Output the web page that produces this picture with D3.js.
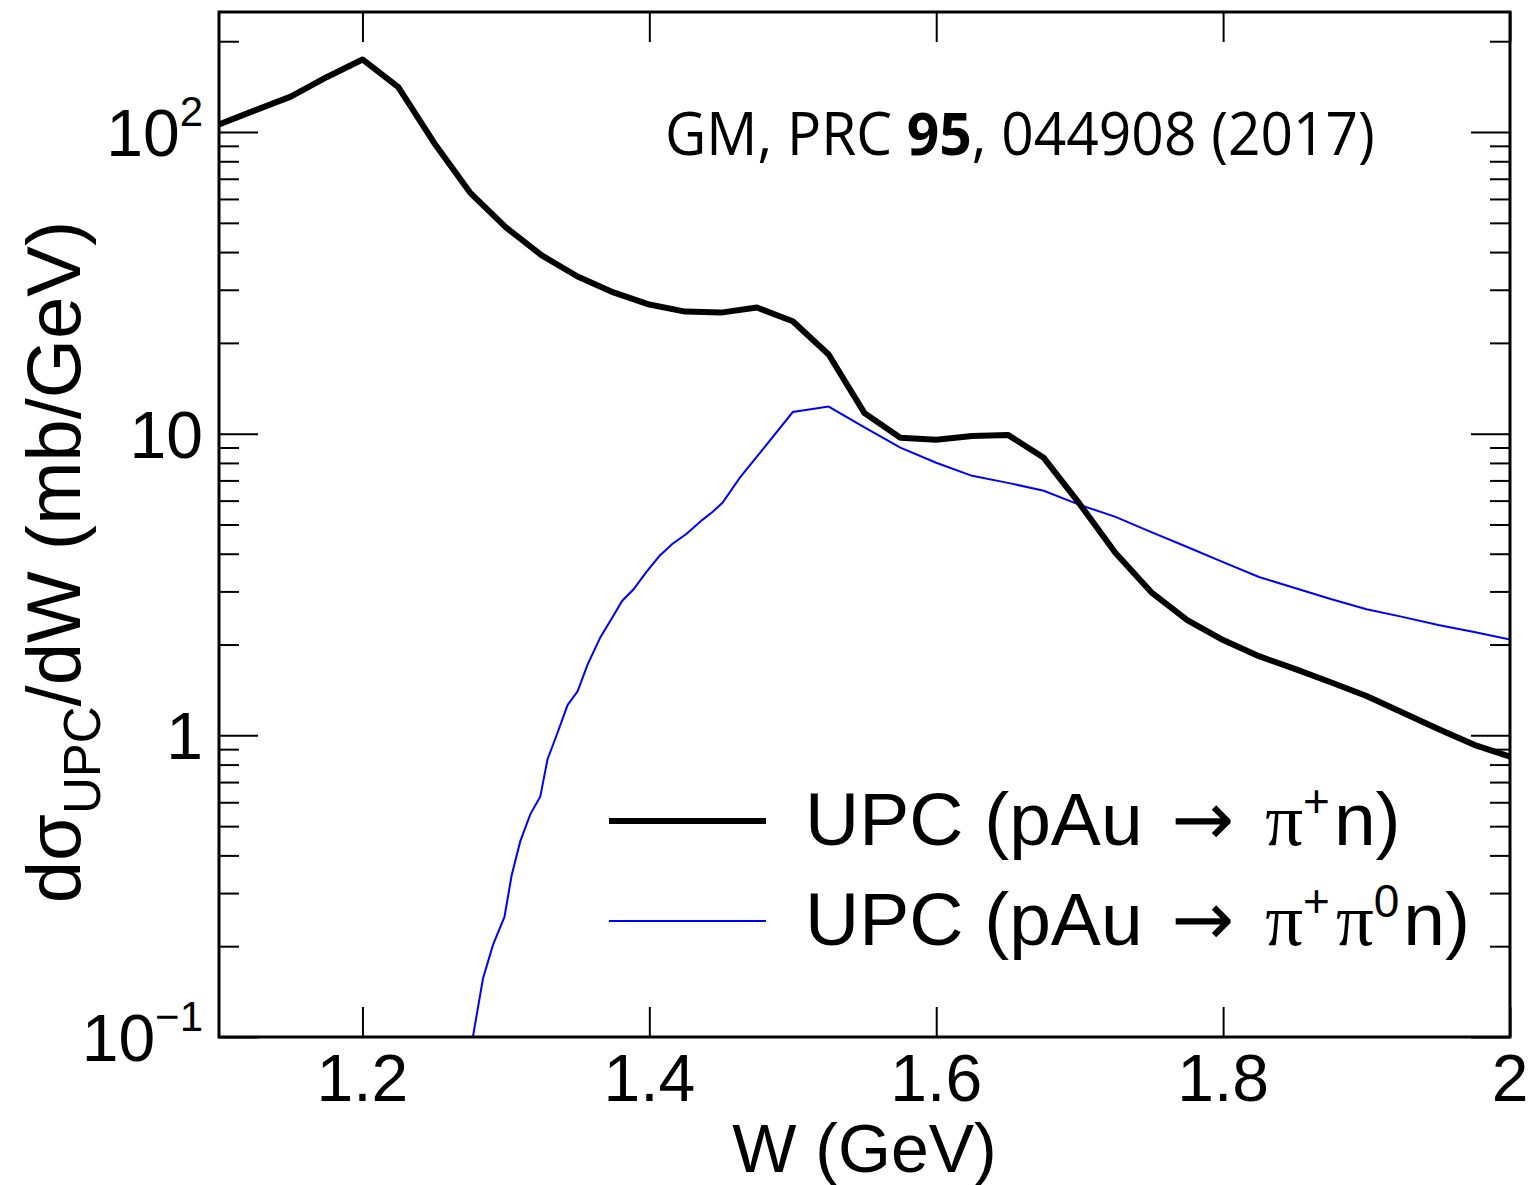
<!DOCTYPE html>
<html>
<head>
<meta charset="utf-8">
<script src="https://cdn.jsdelivr.net/npm/d3@7"></script>
<style>
  body { margin: 0; background: #fff; }
  svg text { font-family: 'Liberation Sans', Arial, Helvetica, sans-serif; fill: #000; }
</style>
</head>
<body>
<div id="chart"></div>
<script>
// pAu -> pi+ n  (black, thick)
const wPiN = [1.1, 1.125, 1.15, 1.175, 1.2, 1.225, 1.25, 1.275, 1.3, 1.325, 1.35, 1.375,
  1.4, 1.425, 1.45, 1.475, 1.5, 1.525, 1.55, 1.575, 1.6, 1.625, 1.65, 1.675, 1.7, 1.725,
  1.75, 1.775, 1.8, 1.825, 1.85, 1.875, 1.9, 1.925, 1.95, 1.975, 2.0]
const sigmaPiN = [106, 118, 131, 152, 174, 141, 92, 63, 48.3, 39.0, 33.2, 29.4,
  26.8, 25.4, 25.2, 26.2, 23.6, 18.3, 11.7, 9.70, 9.55, 9.83, 9.91, 8.32, 5.85, 4.02,
  2.98, 2.41, 2.07, 1.83, 1.66, 1.50, 1.35, 1.19, 1.05, 0.93, 0.85]

// pAu -> pi+ pi0 n  (blue, thin)
const wPiPiN = [1.274, 1.277, 1.284, 1.291, 1.299, 1.304, 1.310, 1.317, 1.324, 1.329, 1.336,
  1.343, 1.350, 1.357, 1.366, 1.374, 1.381, 1.389, 1.398, 1.407, 1.416, 1.426, 1.437,
  1.444, 1.451, 1.463, 1.475, 1.5, 1.525, 1.55, 1.575, 1.6, 1.625, 1.65, 1.675, 1.7,
  1.725, 1.75, 1.775, 1.8, 1.825, 1.85, 1.875, 1.9, 1.925, 1.95, 1.975, 2.0]
const sigmaPiPiN = [0.085, 0.1, 0.156, 0.202, 0.250, 0.343, 0.445, 0.547, 0.627, 0.832, 1.02,
  1.26, 1.40, 1.72, 2.12, 2.45, 2.79, 3.05, 3.48, 3.93, 4.31, 4.66, 5.18,
  5.50, 5.90, 7.14, 8.39, 11.8, 12.3, 10.5, 8.99, 8.01, 7.25, 6.87, 6.47, 5.81,
  5.30, 4.72, 4.21, 3.75, 3.35, 3.08, 2.83, 2.62, 2.47, 2.32, 2.20, 2.08]

const xTicks = [1.2, 1.4, 1.6, 1.8, 2.0]
const xTickLabels = ['1.2', '1.4', '1.6', '1.8', '2']
const yMajor = [0.1, 1, 10, 100]
const yMajorLabels = [['10', '\u22121'], ['1', ''], ['10', ''], ['10', '2']]

const width = 1531
const height = 1185
const margin = {top: 12, right: 21, bottom: 148, left: 219}
const plotW = width - margin.left - margin.right
const plotH = height - margin.top - margin.bottom

// minor ticks 2..9 in every decade
const yMinor = []
for (const d of [0.1, 1, 10, 100]) {
  for (let k = 2; k <= 9; k++) {
    if (k * d <= 250) yMinor.push(k * d)
  }
}

const x = d3.scaleLinear().domain([1.1, 2.0]).range([0, plotW])
const y = d3.scaleLog().domain([0.1, 250]).range([plotH, 0])

const svg = d3.select('#chart').append('svg')
  .attr('width', width)
  .attr('height', height)

const g = svg.append('g')
  .attr('transform', `translate(${margin.left},${margin.top})`)

svg.append('defs').append('clipPath')
  .attr('id', 'clip')
  .append('rect')
  .attr('width', plotW)
  .attr('height', plotH)

// ticks (all inward, mirrored on the opposite sides)
function styleAxis(sel) {
  sel.select('.domain').remove()
  sel.selectAll('.tick line').attr('stroke', '#000').attr('stroke-width', 2)
  sel.selectAll('.tick text').remove()
}

g.append('g')
  .attr('transform', `translate(0,${plotH})`)
  .call(d3.axisBottom(x).tickValues(xTicks).tickSize(-30))
  .call(styleAxis)
g.append('g')
  .call(d3.axisTop(x).tickValues(xTicks).tickSize(-30))
  .call(styleAxis)
g.append('g')
  .call(d3.axisLeft(y).tickValues(yMajor).tickSize(-39))
  .call(styleAxis)
g.append('g')
  .call(d3.axisLeft(y).tickValues(yMinor).tickSize(-20))
  .call(styleAxis)
g.append('g')
  .attr('transform', `translate(${plotW},0)`)
  .call(d3.axisRight(y).tickValues(yMajor).tickSize(-39))
  .call(styleAxis)
g.append('g')
  .attr('transform', `translate(${plotW},0)`)
  .call(d3.axisRight(y).tickValues(yMinor).tickSize(-20))
  .call(styleAxis)

// x tick labels
g.append('g').selectAll('text')
  .data(xTicks)
  .enter().append('text')
  .attr('x', d => x(d))
  .attr('y', plotH + 64)
  .attr('text-anchor', 'middle')
  .attr('font-size', 66)
  .text((d, i) => xTickLabels[i])

// y tick labels with superscripts
const yLab = g.append('g').selectAll('text')
  .data(yMajor)
  .enter().append('text')
  .attr('x', -16)
  .attr('y', d => y(d) + 24)
  .attr('text-anchor', 'end')
  .attr('font-size', 66)
yLab.append('tspan').text((d, i) => yMajorLabels[i][0])
yLab.append('tspan')
  .attr('font-size', 42)
  .attr('dy', -30)
  .text((d, i) => yMajorLabels[i][1])

// curves
const line = d3.line()
  .x(d => x(d[0]))
  .y(d => y(d[1]))

const curves = g.append('g').attr('clip-path', 'url(#clip)')
curves.append('path')
  .datum(wPiPiN.map((w, i) => [w, sigmaPiPiN[i]]))
  .attr('fill', 'none')
  .attr('stroke', '#0000ff')
  .attr('stroke-width', 2)
  .attr('d', line)
curves.append('path')
  .datum(wPiN.map((w, i) => [w, sigmaPiN[i]]))
  .attr('fill', 'none')
  .attr('stroke', '#000')
  .attr('stroke-width', 6)
  .attr('stroke-linejoin', 'round')
  .attr('d', line)

// frame
g.append('rect')
  .attr('width', plotW)
  .attr('height', plotH)
  .attr('fill', 'none')
  .attr('stroke', '#000')
  .attr('stroke-width', 3)

// axis titles
svg.append('text')
  .attr('x', margin.left + plotW / 2)
  .attr('y', 1172)
  .attr('text-anchor', 'middle')
  .attr('font-size', 68)
  .text('W (GeV)')

const yTitle = svg.append('text')
  .attr('transform', 'translate(80,562) rotate(-90)')
  .attr('text-anchor', 'middle')
  .attr('font-size', 76)
yTitle.append('tspan').text('d\u03c3')
yTitle.append('tspan').attr('font-size', 51).attr('dy', 20).text('UPC')
yTitle.append('tspan').attr('dy', -20).text('/dW (mb/GeV)')

// reference note, squeezed horizontally like a condensed face
const noteG = svg.append('g')
const note = noteG.append('text')
  .attr('font-size', 60)
  .style('font-family', "'Open Sans', 'DejaVu Sans', sans-serif")
note.append('tspan').text('GM, PRC ')
note.append('tspan').attr('font-weight', 'bold').text('95')
note.append('tspan').text(', 044908 (2017)')
const noteLen = note.node().getComputedTextLength()
noteG.attr('transform', `translate(665,155) scale(${710 / noteLen},1)`)

// legend
const legendItems = [
  {color: '#000', width: 6, sup: ['+', ''], y: 821},
  {color: '#0000ff', width: 2, sup: ['+', '0'], y: 921},
]
const leg = svg.append('g')
leg.selectAll('line')
  .data(legendItems)
  .enter().append('line')
  .attr('x1', 609)
  .attr('x2', 766)
  .attr('y1', d => d.y)
  .attr('y2', d => d.y)
  .attr('stroke', d => d.color)
  .attr('stroke-width', d => d.width)

const legText = leg.selectAll('text')
  .data(legendItems)
  .enter().append('text')
  .attr('x', 805)
  .attr('y', d => d.y + 24)
  .attr('font-size', 75)
legText.append('tspan').text('UPC (pAu ')
legText.each(function(d) {
  const t = d3.select(this)
  t.append('tspan').attr('dx', 8).style('font-family', "'DejaVu Sans', sans-serif").text('\u2192')
  t.append('tspan').text(' ')
  t.append('tspan').attr('dx', 10).style('font-family', "'Liberation Serif', serif").text('\u03c0')
  t.append('tspan').attr('font-size', 46).attr('dy', -28).text('+')
  if (d.sup[1]) {
    t.append('tspan').attr('dy', 28).attr('dx', 6).style('font-family', "'Liberation Serif', serif").text('\u03c0')
    t.append('tspan').attr('font-size', 46).attr('dy', -28).text(d.sup[1])
  }
  t.append('tspan').attr('dy', 28).attr('dx', 4).text('n)')
})
</script>
</body>
</html>
